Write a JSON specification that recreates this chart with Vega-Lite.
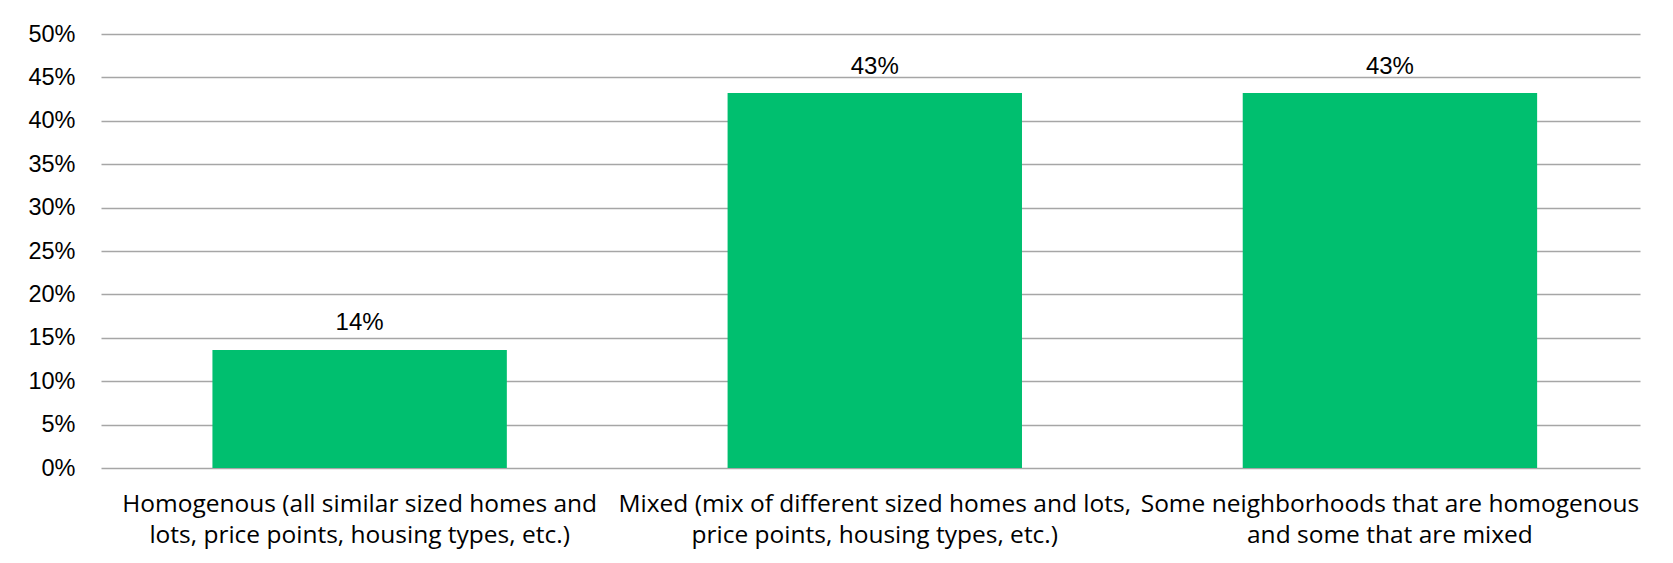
{
  "$schema": "https://vega.github.io/schema/vega-lite/v6.json",
  "width": 1539,
  "height": 434,
  "autosize": "none",
  "padding": {"left": 101, "top": 34, "right": 33, "bottom": 95},
  "background": "white",
  "config": {
    "view": {"stroke": null},
    "axis": {"labelColor": "#000000", "titleColor": "#000000"}
  },
  "data": {
    "values": [
      {"category": "Homogenous (all similar sized homes and|lots, price points, housing types, etc.)", "value": 0.136, "order": 1},
      {"category": "Mixed (mix of different sized homes and lots,|price points, housing types, etc.)", "value": 0.432, "order": 2},
      {"category": "Some neighborhoods that are homogenous|and some that are mixed", "value": 0.432, "order": 3}
    ]
  },
  "encoding": {
    "x": {
      "field": "category",
      "type": "nominal",
      "sort": {"field": "order"},
      "scale": {"paddingInner": 0.4285, "paddingOuter": 0.208, "align": 0.52},
      "axis": {
        "title": null,
        "labelAngle": 0,
        "labelExpr": "split(datum.label, '|')",
        "labelFont": "Open Sans",
        "labelFontSize": 24.5,
        "labelLineHeight": 31,
        "labelPadding": 24,
        "labelLimit": 700,
        "labelBaseline": "top",
        "ticks": false,
        "domain": false
      }
    },
    "y": {
      "field": "value",
      "type": "quantitative",
      "scale": {"domain": [0, 0.5], "nice": false},
      "axis": {
        "title": null,
        "format": ".0%",
        "values": [0, 0.05, 0.1, 0.15, 0.2, 0.25, 0.3, 0.35, 0.4, 0.45, 0.5],
        "labelFont": "Liberation Sans",
        "labelFontSize": 23.5,
        "labelPadding": 26,
        "ticks": false,
        "domain": false,
        "grid": true,
        "gridColor": "#a6a6a6",
        "gridWidth": 1.3
      }
    }
  },
  "layer": [
    {"mark": {"type": "bar", "color": "#00BF6F"}},
    {
      "mark": {"type": "text", "baseline": "alphabetic", "dy": -19.5, "font": "Liberation Sans", "fontSize": 24, "color": "#000000"},
      "encoding": {"text": {"field": "value", "type": "quantitative", "format": ".0%"}}
    }
  ]
}
